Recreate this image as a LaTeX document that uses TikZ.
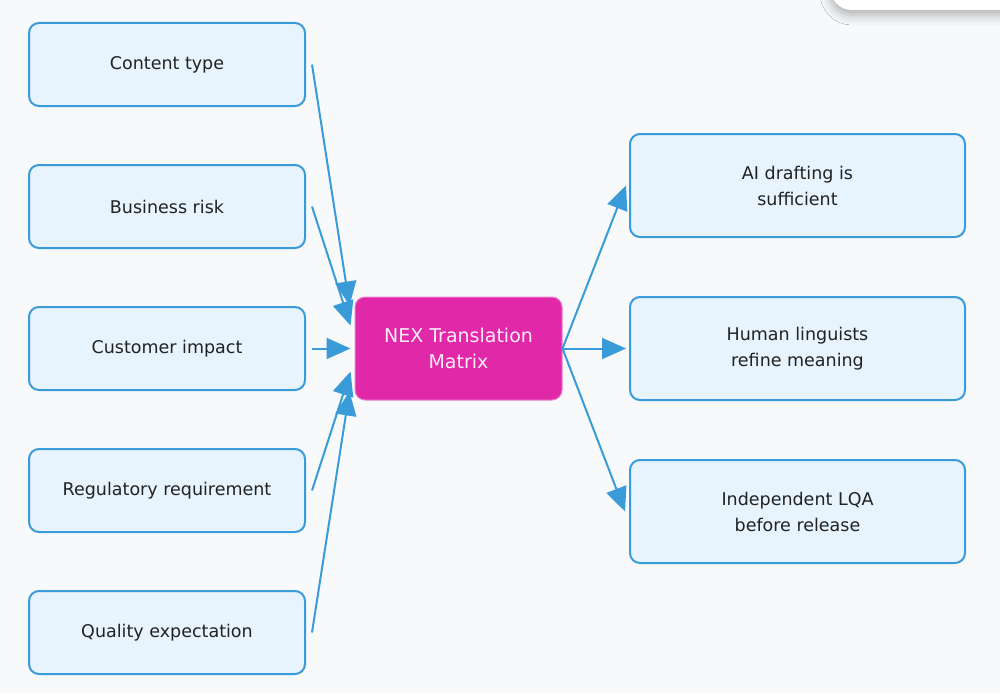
\documentclass[tikz,border=0pt]{standalone}
\usepackage{fontspec}
\setmainfont{DejaVu Sans}
\usetikzlibrary{arrows.meta,shadows.blur}
\definecolor{bg}{HTML}{F7F9FA}
\definecolor{boxfill}{HTML}{E7F3FD}
\definecolor{boxline}{HTML}{3A9BD9}
\definecolor{hub}{HTML}{E028A8}
\definecolor{txt}{HTML}{222222}
\begin{document}
\begin{tikzpicture}[x=1pt,y=-1pt,
  inbox/.style={draw=boxline,line width=2pt,fill=boxfill,rounded corners=10pt,
    minimum width=276pt,minimum height=83pt,text=txt,font=\fontsize{17.5}{26}\selectfont,align=center},
  outbox/.style={inbox,minimum width=335pt,minimum height=103pt},
  hubbox/.style={fill=hub,draw=hub!60,line width=1pt,rounded corners=10pt,minimum width=207pt,minimum height=103pt,
    text=white!92!hub,font=\fontsize{19}{26}\selectfont,align=center},
  conn/.style={draw=boxline,line width=2pt,-{Triangle[length=24pt,width=21pt]}}
]
\fill[bg] (0,0) rectangle (1000,693);
\useasboundingbox (0,0) rectangle (1000,693);
% top-right UI artifact
\fill[white,rounded corners=22pt,blur shadow={shadow xshift=0pt,shadow yshift=-5pt,shadow blur radius=10pt,shadow opacity=30}]
  (830,-40) rectangle (1040,10);

\node[inbox] (b1) at (167,64.5) {Content type};
\node[inbox] (b2) at (167,206.5) {Business risk};
\node[inbox] (b3) at (167,348.5) {Customer impact};
\node[inbox] (b4) at (167,490.5) {Regulatory requirement};
\node[inbox] (b5) at (167,632.5) {Quality expectation};

\node[hubbox] (c) at (458.5,348.5) {NEX Translation\\Matrix};

\node[outbox] (o1) at (797.5,185.5) {AI drafting is\\sufficient};
\node[outbox] (o2) at (797.5,348.5) {Human linguists\\refine meaning};
\node[outbox] (o3) at (797.5,511.5) {Independent LQA\\before release};

\draw[conn] ([xshift=6pt]b1.east) -- ([shift={(-5pt,43pt)}]c.west);
\draw[conn] ([xshift=6pt]b2.east) -- ([shift={(-4pt,23pt)}]c.west);
\draw[conn] ([xshift=6pt]b3.east) -- ([xshift=-4pt]c.west);
\draw[conn] ([xshift=6pt]b4.east) -- ([shift={(-4pt,-23pt)}]c.west);
\draw[conn] ([xshift=6pt]b5.east) -- ([shift={(-5pt,-43pt)}]c.west);

\draw[conn] (c.east) -- ([xshift=-3pt]o1.west);
\draw[conn] (c.east) -- ([xshift=-3pt]o2.west);
\draw[conn] (c.east) -- ([xshift=-4pt]o3.west);
\end{tikzpicture}
\end{document}
